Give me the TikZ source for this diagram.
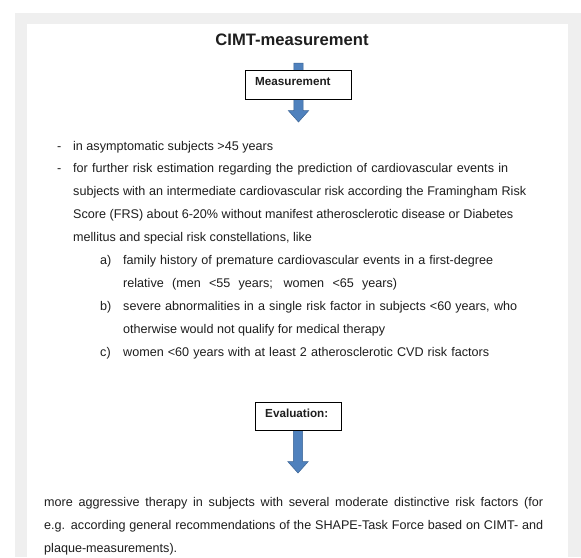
\documentclass[tikz,border=0pt]{standalone}
\usepackage{fontspec}
\setmainfont{Liberation Sans}
\usetikzlibrary{calc}
\definecolor{pagegray}{HTML}{EFEFEF}
\definecolor{arrowblue}{HTML}{4F81BD}
\definecolor{arrowedge}{HTML}{3A6394}
\definecolor{inkgray}{HTML}{1E1E1E}
\def\blockarrow(#1)(#2){\fill[arrowblue, draw=arrowedge, line width=0.5pt] ($(#1)+(-4.6,0)$) -- ($(#2)+(-4.6,-11.5)$) -- ($(#2)+(-10.3,-11.5)$) -- (#2) -- ($(#2)+(10.3,-11.5)$) -- ($(#2)+(4.6,-11.5)$) -- ($(#1)+(4.6,0)$) -- cycle;}
\tikzset{
  body/.style={anchor=base west, inner sep=0pt, text=inkgray, font=\fontsize{12.6}{15}\selectfont},
  labelbox/.style={draw=black, fill=white, line width=0.8pt, inner sep=0pt},
  boxtext/.style={anchor=base west, inner sep=0pt, text=inkgray, font=\bfseries\fontsize{11.7}{13}\selectfont}
}

\begin{document}
\begin{tikzpicture}[x=1pt, y=-1pt]
		%%%%% START %%%%%
		
		\useasboundingbox (0, 0) rectangle (581, 557);
		\fill[white] (0, 0) rectangle (581, 557);
		\fill[pagegray] (15, 13) rectangle (581, 557);
		\fill[white] (27, 24) rectangle (568, 557);
		
		\node[anchor=base, inner sep=0pt, text=inkgray, font=\bfseries\fontsize{16.6}{18}\selectfont] (title) at (292, 45.5) {CIMT-measurement};
		
		% upper arrow and box
		\coordinate (mtop) at (298.5, 63);
		\coordinate (mtip) at (298.5, 122);
		\blockarrow(mtop)(mtip)
		\node[labelbox, minimum width=106pt, minimum height=29pt] (mbox) at (298, 84.5) {};
		\node[boxtext] (mtext) at (255, 85.5) {Measurement};
		
		% indications
		\node[body] (d1) at (57, 150) {-};
		\node[body] (l1) at (73, 150) {in asymptomatic subjects >45 years};
		\node[body] (d2) at (57, 172.9) {-};
		\node[body] (l2) at (73, 172.9) {\makebox[435pt][s]{for further risk estimation regarding the prediction of cardiovascular events in}};
		\node[body] (l3) at (73, 195.8) {\makebox[453pt][s]{subjects with an intermediate cardiovascular risk according the Framingham Risk}};
		\node[body] (l4) at (73, 218.7) {\makebox[440pt][s]{Score (FRS) about 6-20\% without manifest atherosclerotic disease or Diabetes}};
		\node[body] (l5) at (73, 241.6) {mellitus and special risk constellations, like};
		
		\node[body] (ia) at (100, 264.5) {a)};
		\node[body] (la1) at (123, 264.5) {\makebox[370pt][s]{family history of premature cardiovascular events in a first-degree}};
		\node[body] (la2) at (123, 287.4) {\makebox[274pt][s]{relative (men <55 years; women <65 years)}};
		\node[body] (ib) at (100, 310.3) {b)};
		\node[body] (lb1) at (123, 310.3) {\makebox[394pt][s]{severe abnormalities in a single risk factor in subjects <60 years, who}};
		\node[body] (lb2) at (123, 333.2) {otherwise would not qualify for medical therapy};
		\node[body] (ic) at (100, 356.1) {c)};
		\node[body] (lc1) at (123, 356.1) {\makebox[366pt][s]{women <60 years with at least 2 atherosclerotic CVD risk factors}};
		
		% lower arrow and box
		\coordinate (etop) at (298, 420);
		\coordinate (etip) at (298, 473);
		\blockarrow(etop)(etip)
		\node[labelbox, minimum width=86pt, minimum height=28.5pt] (ebox) at (298, 416.5) {};
		\node[boxtext] (etext) at (265, 417.5) {Evaluation:};
		
		% consequence
		\node[body] (r1) at (44, 506.5) {\makebox[499pt][s]{more aggressive therapy in subjects with several moderate distinctive risk factors (for}};
		\node[body] (r2) at (44, 529.5) {\makebox[499pt][s]{e.g. according general recommendations of the SHAPE-Task Force based on CIMT- and}};
		\node[body] (r3) at (44, 552.5) {plaque-measurements).};
		
		%%%%% END %%%%%
	\end{tikzpicture}
\end{document}
